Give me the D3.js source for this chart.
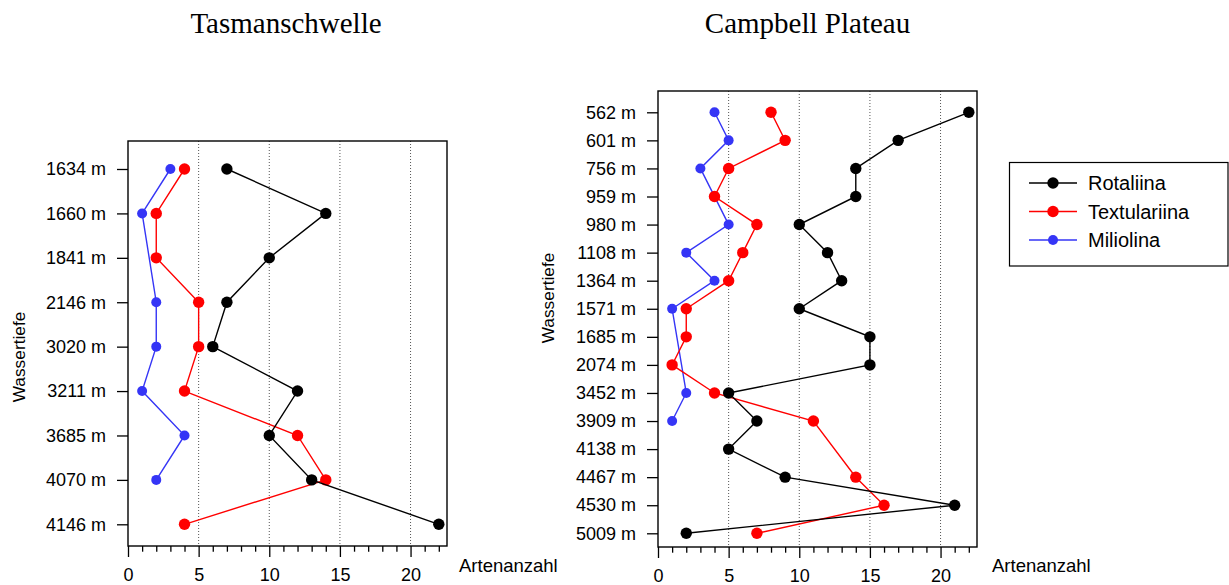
<!DOCTYPE html>
<html>
<head>
<meta charset="utf-8">
<script src="https://cdn.jsdelivr.net/npm/d3@7"></script>
<style>
  body { margin: 0; background: #fff; }
  svg { display: block; }
  text { font-family: "Liberation Sans", Arial, Helvetica, sans-serif; fill: #000; }
</style>
</head>
<body>
<svg id="chart" width="1229" height="585"></svg>
<script>
// ---- data ----
const seriesNames = ["Rotaliina", "Textulariina", "Miliolina"];
const xTickValues = [0, 5, 10, 15, 20];
const xAxisTitle = "Artenanzahl";
const yAxisTitle = "Wassertiefe";

const tasmanTitle = "Tasmanschwelle";
const tasmanDepths = ["1634 m", "1660 m", "1841 m", "2146 m", "3020 m", "3211 m", "3685 m", "4070 m", "4146 m"];
const tasmanRotaliina    = [7, 14, 10, 7, 6, 12, 10, 13, 22];
const tasmanTextulariina = [4, 2, 2, 5, 5, 4, 12, 14, 4];
const tasmanMiliolina    = [3, 1, null, 2, 2, 1, 4, 2, null];

const campbellTitle = "Campbell Plateau";
const campbellDepths = ["562 m", "601 m", "756 m", "959 m", "980 m", "1108 m", "1364 m", "1571 m",
                        "1685 m", "2074 m", "3452 m", "3909 m", "4138 m", "4467 m", "4530 m", "5009 m"];
const campbellRotaliina    = [22, 17, 14, 14, 10, 12, 13, 10, 15, 15, 5, 7, 5, 9, 21, 2];
const campbellTextulariina = [8, 9, 5, 4, 7, 6, 5, 2, 2, 1, 4, 11, null, 14, 16, 7];
const campbellMiliolina    = [4, 5, 3, null, 5, 2, 4, 1, null, null, 2, 1, null, null, null, null];

// ---- styles ----
const seriesStyle = {
  "Rotaliina":    { color: "#000000", r: 5.7 },
  "Textulariina": { color: "#ff0000", r: 5.7 },
  "Miliolina":    { color: "#3535f6", r: 5.0 }
};
const xMax = 22.58;

const svg = d3.select("#chart");

function drawPanel(cfg) {
  const g = svg.append("g");
  const x = d3.scaleLinear().domain([0, xMax]).range([cfg.box.x0, cfg.box.x1]);
  const y = d3.scalePoint().domain(cfg.depths).range([cfg.rowTop, cfg.rowBottom]).padding(0);

  // title
  g.append("text")
    .attr("x", cfg.titleX).attr("y", 33)
    .attr("text-anchor", "middle")
    .style("font-family", "'Liberation Serif', 'Times New Roman', serif")
    .style("font-size", "29px")
    .text(cfg.title);

  // dotted vertical reference lines
  g.append("g").selectAll("line")
    .data(xTickValues.filter(v => v > 0))
    .join("line")
    .attr("x1", d => x(d)).attr("x2", d => x(d))
    .attr("y1", cfg.box.y0).attr("y2", cfg.box.y1)
    .attr("stroke", "#555")
    .attr("stroke-width", 1)
    .attr("stroke-dasharray", "1,2");

  // series: drawn Miliolina, Textulariina, Rotaliina so black sits on top
  const drawOrder = ["Miliolina", "Textulariina", "Rotaliina"];
  drawOrder.forEach(name => {
    const vals = cfg.series[name];
    const pts = cfg.depths.map((d, i) => ({ depth: d, v: vals[i] })).filter(p => p.v !== null);
    const st = seriesStyle[name];
    const line = d3.line().x(p => x(p.v)).y(p => y(p.depth));
    g.append("path")
      .datum(pts)
      .attr("d", line)
      .attr("fill", "none")
      .attr("stroke", st.color)
      .attr("stroke-width", 1.4);
    g.append("g").selectAll("circle")
      .data(pts)
      .join("circle")
      .attr("cx", p => x(p.v))
      .attr("cy", p => y(p.depth))
      .attr("r", st.r)
      .attr("fill", st.color);
  });

  // frame (left & bottom act as axis lines)
  g.append("rect")
    .attr("x", cfg.box.x0).attr("y", cfg.box.y0)
    .attr("width", cfg.box.x1 - cfg.box.x0)
    .attr("height", cfg.box.y1 - cfg.box.y0)
    .attr("fill", "none")
    .attr("stroke", "#000")
    .attr("stroke-width", 1.4);

  // y axis
  const yAx = g.append("g")
    .attr("transform", `translate(${cfg.box.x0},0)`)
    .call(d3.axisLeft(y).tickSize(11).tickPadding(11));
  yAx.select(".domain").remove();
  yAx.selectAll(".tick line").attr("stroke-width", 1.3);
  yAx.selectAll("text").style("font-size", "18px")
    .style("font-family", "'Liberation Sans', Arial, sans-serif").attr("fill", "#000");

  // x axis, major ticks
  const xAx = g.append("g")
    .attr("transform", `translate(0,${cfg.box.y1})`)
    .call(d3.axisBottom(x).tickValues(xTickValues).tickSize(11).tickPadding(11).tickFormat(d3.format("d")));
  xAx.select(".domain").remove();
  xAx.selectAll(".tick line").attr("stroke-width", 1.3);
  xAx.selectAll("text").style("font-size", "18px")
    .style("font-family", "'Liberation Sans', Arial, sans-serif").attr("fill", "#000");

  // x axis, minor ticks at every unit
  const minor = d3.range(0, 23).filter(v => v % 5 !== 0);
  const xMin = g.append("g")
    .attr("transform", `translate(0,${cfg.box.y1})`)
    .call(d3.axisBottom(x).tickValues(minor).tickSize(5.7).tickFormat(""));
  xMin.select(".domain").remove();
  xMin.selectAll(".tick line").attr("stroke-width", 1.3);

  // axis titles
  g.append("text")
    .attr("x", cfg.xLabX).attr("y", 572)
    .style("font-size", "18.5px")
    .text(xAxisTitle);
  g.append("text")
    .attr("transform", `translate(${cfg.yLabX},${cfg.yLabY}) rotate(-90)`)
    .attr("text-anchor", "middle")
    .style("font-size", "17.3px")
    .text(yAxisTitle);
}

drawPanel({
  title: tasmanTitle, titleX: 286,
  depths: tasmanDepths,
  series: { "Rotaliina": tasmanRotaliina, "Textulariina": tasmanTextulariina, "Miliolina": tasmanMiliolina },
  box: { x0: 128, x1: 447, y0: 141, y1: 546 },
  rowTop: 169, rowBottom: 524.3,
  xLabX: 459, yLabX: 25, yLabY: 357
});

drawPanel({
  title: campbellTitle, titleX: 807.5,
  depths: campbellDepths,
  series: { "Rotaliina": campbellRotaliina, "Textulariina": campbellTextulariina, "Miliolina": campbellMiliolina },
  box: { x0: 658, x1: 977, y0: 91, y1: 547 },
  rowTop: 112.3, rowBottom: 533.3,
  xLabX: 992, yLabX: 554, yLabY: 298
});

// legend
const legend = svg.append("g");
legend.append("rect")
  .attr("x", 1009.5).attr("y", 162.5)
  .attr("width", 218.5).attr("height", 103.5)
  .attr("fill", "#fff").attr("stroke", "#000").attr("stroke-width", 1.2);
const rowY = d3.scalePoint().domain(seriesNames).range([183, 240]);
const items = legend.selectAll("g.item").data(seriesNames).join("g").attr("class", "item")
  .attr("transform", d => `translate(0,${rowY(d)})`);
items.append("line")
  .attr("x1", 1029).attr("x2", 1077)
  .attr("stroke", d => seriesStyle[d].color).attr("stroke-width", 1.4);
items.append("circle")
  .attr("cx", 1053).attr("r", d => seriesStyle[d].r)
  .attr("fill", d => seriesStyle[d].color);
items.append("text")
  .attr("x", 1088).attr("dy", "0.36em")
  .style("font-size", "20px")
  .text(d => d);
</script>
</body>
</html>
